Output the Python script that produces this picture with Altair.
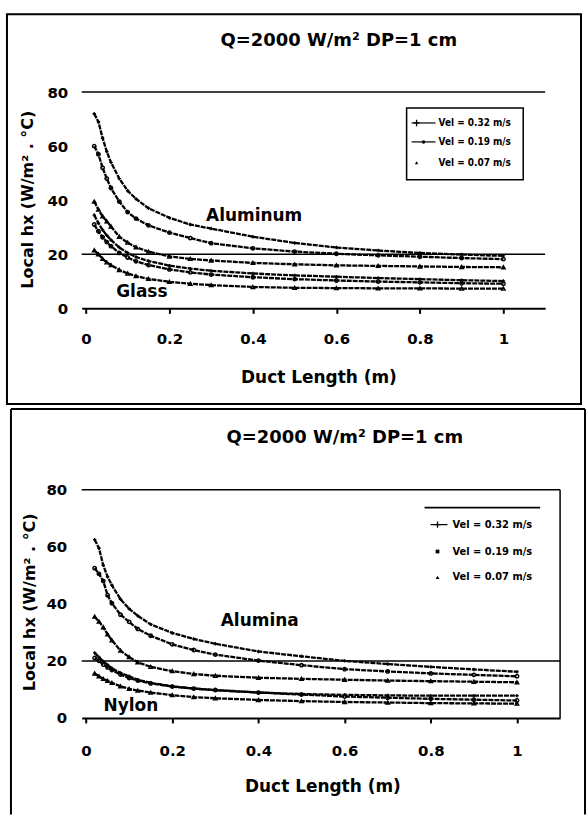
import altair as alt
import pandas as pd

# ---------------- data ----------------
x_len = [0.02, 0.03, 0.04, 0.05, 0.06, 0.08, 0.10, 0.12, 0.15, 0.20,
         0.25, 0.30, 0.40, 0.50, 0.60, 0.70, 0.80, 0.90, 1.00]

vel_labels = ["Vel = 0.32 m/s", "Vel = 0.19 m/s", "Vel = 0.07 m/s"]
x_ticks = [0, 0.2, 0.4, 0.6, 0.8, 1]
y_ticks = [0, 20, 40, 60, 80]
ref_lines = [20, 80]

title_text = "Q=2000 W/m\u00b2  DP=1 cm"
x_title = "Duct Length (m)"
y_title = "Local  hx (W/m\u00b2 . \u00b0C)"

top_materials = ["Aluminum", "Glass"]
bottom_materials = ["Alumina", "Nylon"]

# top panel
aluminum_032 = [72, 69, 63, 58, 54, 48, 43.5, 40.5, 37, 33.5, 31, 29.5, 26.5, 24.2, 22.5, 21.4, 20.5, 19.9, 19.4]
aluminum_019 = [60, 57, 52, 48, 44.5, 39.5, 35.6, 33.2, 30.7, 28, 26, 24.1, 22.2, 21, 20.2, 19.6, 19.1, 18.6, 18.2]
aluminum_007 = [39.5, 36.5, 34, 32.2, 30.3, 26.5, 24.3, 22.6, 21, 19.2, 18.3, 17.7, 16.8, 16.3, 15.9, 15.7, 15.5, 15.3, 15.2]
glass_032 = [34.5, 31.5, 29, 27, 25.3, 22.5, 20.5, 19, 17.5, 15.8, 14.7, 13.9, 12.9, 12.2, 11.7, 11.2, 10.8, 10.4, 10.1]
glass_019 = [31, 28.5, 26.3, 24.5, 23, 20.5, 18.8, 17.4, 16, 14.4, 13.3, 12.5, 11.5, 10.8, 10.3, 9.9, 9.6, 9.3, 9.1]
glass_007 = [21.5, 20, 18.3, 17, 16, 14.2, 12.9, 11.9, 10.9, 9.8, 9.1, 8.6, 7.9, 7.6, 7.5, 7.4, 7.4, 7.3, 7.3]

# bottom panel
alumina_032 = [62.5, 59.5, 53.5, 49.5, 46.5, 41.6, 38.3, 35.8, 32.8, 29.8, 27.7, 26, 23.3, 21.6, 20, 18.9, 17.9, 17, 16.2]
alumina_019 = [52.5, 50.5, 48, 43, 40.2, 36.2, 33.7, 31.2, 28.8, 25.8, 23.8, 22.2, 20.1, 18.5, 17.1, 16.3, 15.6, 15.1, 14.6]
alumina_007 = [35.5, 33.8, 31.8, 29.3, 27.2, 23.6, 21.3, 19.5, 17.9, 16.4, 15.4, 14.8, 14.1, 13.7, 13.4, 13.1, 12.9, 12.7, 12.5]
nylon_032 = [22.8, 21.3, 19.8, 18.6, 17.4, 15.8, 14.6, 13.4, 12.3, 11.1, 10.3, 9.7, 8.9, 8.4, 8.1, 7.9, 7.8, 7.8, 7.8]
nylon_019 = [21, 20, 18.7, 17.7, 16.8, 15.2, 14.0, 13.1, 12.1, 11.0, 10.3, 9.8, 8.9, 8.2, 7.5, 7.1, 6.7, 6.4, 6.1]
nylon_007 = [15.6, 14.6, 13.7, 13, 12.3, 11.1, 10.2, 9.6, 8.9, 8, 7.3, 6.9, 6.3, 5.9, 5.6, 5.4, 5.2, 5.1, 5.0]

# annotation labels (data coordinates)
top_label_x = [0.403, 0.134]
top_label_y = [34.3, 5.9]
bottom_label_x = [0.403, 0.104]
bottom_label_y = [33.9, 4.2]

FONT = "DejaVu Sans"
CROSS = "M-1,0L1,0M0,-1L0,1"


def make_df(materials, groups):
    rows = []
    for m, lists in zip(materials, groups):
        for vel, vals in zip(vel_labels, lists):
            for x, h in zip(x_len, vals):
                rows.append(dict(x=x, h=h, material=m, vel=vel, key=m + " " + vel))
    return pd.DataFrame(rows)


top_df = make_df(top_materials, [[aluminum_032, aluminum_019, aluminum_007],
                                 [glass_032, glass_019, glass_007]])
bottom_df = make_df(bottom_materials, [[alumina_032, alumina_019, alumina_007],
                                       [nylon_032, nylon_019, nylon_007]])

one = pd.DataFrame({"a": [0]})


def txt(s, x, y, size, bold=True, angle=0, align="center", font=FONT):
    kw = dict(text=s, font=font, fontSize=size, color="black", align=align, baseline="middle")
    if bold:
        kw["fontWeight"] = "bold"
    if angle:
        kw["angle"] = angle
    return alt.Chart(one).mark_text(**kw).encode(x=alt.value(x), y=alt.value(y))


def seg(x, y, x2=None, y2=None, w=1.5):
    enc = dict(x=alt.value(x), y=alt.value(y))
    if x2 is not None:
        enc["x2"] = alt.value(x2)
    if y2 is not None:
        enc["y2"] = alt.value(y2)
    return alt.Chart(one).mark_rule(color="black", strokeWidth=w).encode(**enc)


def sym(shape, x, y, size, filled):
    return alt.Chart(one).mark_point(shape=shape, size=size, filled=filled, color="black",
                                     strokeWidth=1.3, opacity=1).encode(
        x=alt.value(x), y=alt.value(y))


def panel(df, W, H, shapes, materials, lab_x, lab_y, xlabel_pad, ylabel_pad):
    xs = alt.Scale(domain=[-0.01, 1.1], nice=False, zero=False)
    ys = alt.Scale(domain=[0, 80], nice=False)
    xaxis = alt.Axis(values=x_ticks, format="~g", title=None, grid=False,
                     domainColor="black", domainWidth=2, tickColor="black", tickWidth=2,
                     tickSize=5, labelFont=FONT, labelFontWeight="bold", labelFontSize=15,
                     labelColor="black", labelPadding=xlabel_pad, labelFlush=False)
    yaxis = alt.Axis(values=y_ticks, title=None, grid=False, domain=False, ticks=False,
                     labelFont=FONT, labelFontWeight="bold", labelFontSize=15,
                     labelColor="black", labelPadding=ylabel_pad)
    base = alt.Chart(df)
    lines = base.mark_line(color="black", strokeWidth=2.3, strokeDash=[5, 1]).encode(
        x=alt.X("x:Q", scale=xs, axis=xaxis),
        y=alt.Y("h:Q", scale=ys, axis=yaxis),
        detail="key:N",
    )
    pts = base.mark_point(color="black", size=12, strokeWidth=1.4, filled=False, opacity=1).encode(
        x=alt.X("x:Q", scale=xs),
        y=alt.Y("h:Q", scale=ys),
        shape=alt.Shape("vel:N", scale=alt.Scale(domain=vel_labels, range=shapes), legend=None),
    )
    rules = alt.Chart(pd.DataFrame({"v": ref_lines})).mark_rule(color="black", strokeWidth=1.5).encode(
        y=alt.Y("v:Q", scale=ys)
    )
    labels = alt.Chart(pd.DataFrame({"x": lab_x, "y": lab_y, "t": materials})).mark_text(
        font=FONT, fontWeight="bold", fontSize=17, color="black", align="center", baseline="middle"
    ).encode(x=alt.X("x:Q", scale=xs), y=alt.Y("y:Q", scale=ys), text="t:N")
    return [rules, lines, pts, labels]


# ---------------- top panel ----------------
W1, H1 = 465, 217
top_layers = [
    alt.Chart(one).mark_rect(fillOpacity=0, stroke="black", strokeWidth=2).encode(
        x=alt.value(-75), x2=alt.value(501), y=alt.value(-78), y2=alt.value(313)),
]
top_layers += panel(top_df, W1, H1, [CROSS, "circle", "triangle-up"], top_materials,
                    top_label_x, top_label_y, 18, 14)
top_layers += [
    txt(title_text, 258, -51, 18),
    txt(x_title, 238, 287, 17),
    txt(y_title, -54, 108, 16, angle=270),
    # legend box
    alt.Chart(one).mark_rect(fillOpacity=0, stroke="black", strokeWidth=1.5).encode(
        x=alt.value(326), x2=alt.value(443), y=alt.value(16), y2=alt.value(88)),
    seg(331, 31, x2=355, w=1.2), sym(CROSS, 336, 31, 40, False),
    seg(331, 50, x2=355, w=1.2), sym("circle", 343, 50, 12, True),
    sym("triangle-up", 336, 71, 12, True),
    txt(vel_labels[0], 358, 31, 10, align="left", font="DejaVu Sans Condensed"),
    txt(vel_labels[1], 358, 50, 10, align="left", font="DejaVu Sans Condensed"),
    txt(vel_labels[2], 358, 71, 10, align="left", font="DejaVu Sans Condensed"),
]
top = alt.layer(*top_layers).properties(width=W1, height=H1)

# ---------------- bottom panel ----------------
W2, H2 = 480, 229
bottom_layers = [
    seg(-71, -81, y2=326, w=2),
    seg(-71, -81, x2=505, w=2),
    seg(505, -81, y2=326, w=2),
]
bottom_layers += panel(bottom_df, W2, H2, [CROSS, "square", "triangle-up"], bottom_materials,
                       bottom_label_x, bottom_label_y, 21, 15)
bottom_layers += [
    alt.Chart(one).mark_rule(color="black", strokeWidth=1.5).encode(
        x=alt.datum(1.1), y=alt.datum(0), y2=alt.datum(80)),
    txt(title_text, 264, -52, 18),
    txt(x_title, 242, 298, 17),
    txt(y_title, -52, 113, 16, angle=270),
    seg(344, 18, x2=460, w=1.8),
    seg(350, 35, x2=367, w=1.2), sym(CROSS, 357, 35, 40, False),
    sym("square", 357, 62, 14, True),
    sym("triangle-up", 357, 88, 14, True),
    txt(vel_labels[0], 372, 35, 11, align="left", font="DejaVu Sans Condensed"),
    txt(vel_labels[1], 372, 62, 11, align="left", font="DejaVu Sans Condensed"),
    txt(vel_labels[2], 372, 88, 11, align="left", font="DejaVu Sans Condensed"),
]
bottom = alt.layer(*bottom_layers).properties(width=W2, height=H2)

chart = alt.vconcat(top, bottom, spacing=3).properties(
    padding={"left": 6, "top": 12, "right": 0, "bottom": 0},
    background="white",
).configure_view(strokeWidth=0)

chart.save("out.html", embed_options={"renderer": "svg", "actions": False})
